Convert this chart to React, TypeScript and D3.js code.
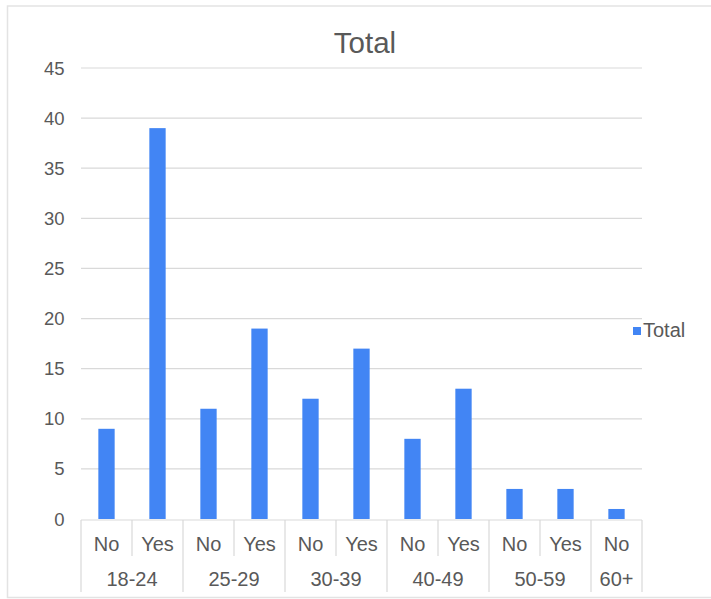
import React from "react";
import * as d3 from "d3";

const groups = ["18-24", "25-29", "30-39", "40-49", "50-59", "60+"];
const answers = [
  ["No", "Yes"],
  ["No", "Yes"],
  ["No", "Yes"],
  ["No", "Yes"],
  ["No", "Yes"],
  ["No"],
];
const totals = [
  [9, 39],
  [11, 19],
  [12, 17],
  [8, 13],
  [3, 3],
  [1],
];
const yTicks = [0, 5, 10, 15, 20, 25, 30, 35, 40, 45];

const W = 711;
const H = 599;
const left = 81;
const right = 642;
const top = 68;
const bottom = 519;
const font = "'Liberation Sans', Arial, Helvetica, sans-serif";
const textColor = "#595959";
const gridColor = "#d9d9d9";
const barColor = "#4285f4";

type Row = { key: string; group: string; answer: string; value: number };

const rows: Row[] = [];
groups.forEach((g, gi) => {
  answers[gi].forEach((a, ai) => {
    rows.push({ key: `${g}|${a}`, group: g, answer: a, value: totals[gi][ai] });
  });
});

export default function App() {
  const x = d3
    .scaleBand<string>()
    .domain(rows.map((r) => r.key))
    .range([left, right])
    .paddingInner(0)
    .paddingOuter(0);
  const y = d3.scaleLinear().domain([0, 45]).range([bottom, top]);
  const step = x.step();
  const barW = step * 0.32;

  // group spans along the category axis
  const spans: { group: string; x0: number; x1: number }[] = [];
  let idx = 0;
  groups.forEach((g, gi) => {
    const n = answers[gi].length;
    const x0 = left + idx * step;
    spans.push({ group: g, x0, x1: x0 + n * step });
    idx += n;
  });

  return (
    <svg
      width={W}
      height={H}
      style={{ position: "absolute", left: 0, top: 0, display: "block", background: "#fff" }}
      fontFamily={font}
    >
      {/* frame: top, left, bottom edges */}
      <path d={`M${W},6 H7.5 V597.5 H${W}`} fill="none" stroke="#e3e3e3" strokeWidth={1.5} />
      <text x={365} y={53} textAnchor="middle" fontSize={29.5} fill={textColor}>
        Total
      </text>

      {yTicks.map((t) => (
        <g key={t}>
          {t > 0 && (
            <line x1={left} x2={right} y1={y(t)} y2={y(t)} stroke={gridColor} strokeWidth={1.2} />
          )}
          <text x={64.5} y={y(t) + 6.5} textAnchor="end" fontSize={18.5} fill={textColor}>
            {t}
          </text>
        </g>
      ))}

      {rows.map((r) => (
        <rect
          key={r.key}
          x={(x(r.key) as number) + step / 2 - barW / 2}
          y={y(r.value)}
          width={barW}
          height={y(0) - y(r.value)}
          fill={barColor}
        />
      ))}

      {/* category axis */}
      <line x1={left} x2={right} y1={bottom + 1} y2={bottom + 1} stroke={gridColor} strokeWidth={1.2} />
      {rows.map((r) => (
        <text
          key={r.key + "-lbl"}
          x={(x(r.key) as number) + step / 2}
          y={551}
          textAnchor="middle"
          fontSize={20}
          fill={textColor}
        >
          {r.answer}
        </text>
      ))}
      {spans.map((s) =>
        d3.range(1, Math.round((s.x1 - s.x0) / step)).map((k) => (
          <line
            key={s.group + "-in" + k}
            x1={s.x0 + k * step}
            x2={s.x0 + k * step}
            y1={bottom + 1}
            y2={556}
            stroke={gridColor}
            strokeWidth={1.2}
          />
        ))
      )}
      {[spans[0].x0, ...spans.map((s) => s.x1)].map((bx, i) => (
        <line key={"div" + i} x1={bx} x2={bx} y1={bottom + 1} y2={592} stroke={gridColor} strokeWidth={1.2} />
      ))}
      {spans.map((s) => (
        <text
          key={s.group}
          x={(s.x0 + s.x1) / 2}
          y={586}
          textAnchor="middle"
          fontSize={20}
          fill={textColor}
        >
          {s.group}
        </text>
      ))}

      {/* legend */}
      <rect x={633} y={327} width={8} height={8} fill={barColor} />
      <text x={643} y={337} fontSize={20} fill={textColor}>
        Total
      </text>
    </svg>
  );
}
